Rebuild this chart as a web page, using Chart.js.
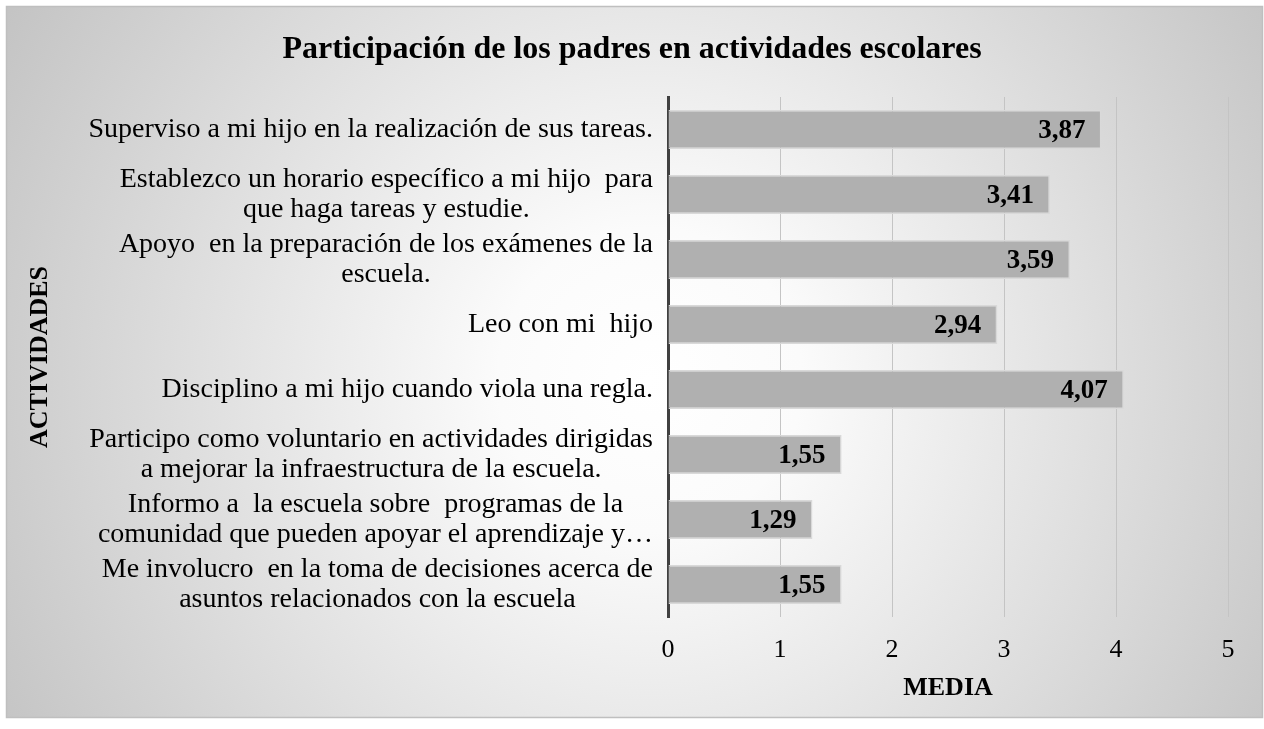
<!DOCTYPE html>
<html>
<head>
<meta charset="utf-8">
<script src="https://cdn.jsdelivr.net/npm/chart.js@4.4.0/dist/chart.umd.min.js"></script>
<style>
  html, body { margin: 0; padding: 0; background: #ffffff; }
  #wrap { position: absolute; left: 0; top: 0; width: 1264px; height: 729px; }
</style>
</head>
<body>
<div id="wrap"><canvas id="c" width="1264" height="729"></canvas></div>
<script>
const chartTitle = 'Participación de los padres en actividades escolares';
const xAxisTitle = 'MEDIA';
const yAxisTitle = 'ACTIVIDADES';
const categories = [
  ['Superviso a mi hijo en la realización de sus tareas.'],
  ['Establezco un horario específico a mi hijo  para', 'que haga tareas y estudie.'],
  ['Apoyo  en la preparación de los exámenes de la', 'escuela.'],
  ['Leo con mi  hijo'],
  ['Disciplino a mi hijo cuando viola una regla.'],
  ['Participo como voluntario en actividades dirigidas', 'a mejorar la infraestructura de la escuela.'],
  ['Informo a  la escuela sobre  programas de la', 'comunidad que pueden apoyar el aprendizaje y…'],
  ['Me involucro  en la toma de decisiones acerca de', 'asuntos relacionados con la escuela']
];
const mediaValues = [3.87, 3.41, 3.59, 2.94, 4.07, 1.55, 1.29, 1.55];
const xTicks = [0, 1, 2, 3, 4, 5];

const FONT = '"Liberation Serif", "Times New Roman", serif';

const bgPlugin = {
  id: 'bg',
  beforeDraw(chart) {
    const ctx = chart.ctx;
    ctx.save();
    const g = ctx.createRadialGradient(650, 380, 0, 650, 380, 760);
    g.addColorStop(0, '#ffffff');
    g.addColorStop(0.2, '#fbfbfb');
    g.addColorStop(1, '#c2c2c2');
    ctx.fillStyle = g;
    ctx.fillRect(6, 6, 1256, 711);
    ctx.strokeStyle = '#bfbfbf';
    ctx.lineWidth = 1.5;
    ctx.strokeRect(6.5, 6.5, 1256, 711);
    ctx.restore();
  }
};

const catLabelPlugin = {
  id: 'catLabels',
  afterDraw(chart) {
    const ctx = chart.ctx;
    const y = chart.scales.y;
    ctx.save();
    ctx.font = '28px ' + FONT;
    ctx.fillStyle = '#000000';
    ctx.textBaseline = 'middle';
    ctx.textAlign = 'center';
    const right = chart.chartArea.left - 15;
    const lh = 30;
    categories.forEach((lines, i) => {
      const cy = y.getPixelForTick(i);
      const w = Math.max(...lines.map(l => ctx.measureText(l).width));
      const cx = right - w / 2;
      const start = cy - (lines.length - 1) * lh / 2;
      lines.forEach((l, k) => ctx.fillText(l, cx, start + k * lh));
    });
    ctx.restore();
  }
};

const valueLabelPlugin = {
  id: 'valLabels',
  afterDatasetsDraw(chart) {
    const ctx = chart.ctx;
    const meta = chart.getDatasetMeta(0);
    ctx.save();
    ctx.font = 'bold 27px ' + FONT;
    ctx.fillStyle = '#000000';
    ctx.textAlign = 'right';
    ctx.textBaseline = 'middle';
    meta.data.forEach((bar, i) => {
      const txt = mediaValues[i].toFixed(2).replace('.', ',');
      ctx.fillText(txt, bar.x - 16, bar.y + 2);
    });
    ctx.restore();
  }
};

new Chart(document.getElementById('c'), {
  type: 'bar',
  data: {
    labels: categories,
    datasets: [{
      data: mediaValues,
      backgroundColor: '#b0b0b0',
      borderColor: '#d9d9d9',
      borderWidth: 1.5,
      borderSkipped: 'start',
      barPercentage: 0.6,
      categoryPercentage: 1.0
    }]
  },
  options: {
    indexAxis: 'y',
    responsive: false,
    animation: false,
    devicePixelRatio: 1,
    layout: { padding: { left: 36, right: 36, top: 6, bottom: 14 } },
    plugins: {
      legend: { display: false },
      tooltip: { enabled: false },
      title: {
        display: true,
        text: chartTitle,
        color: '#000000',
        font: { family: FONT, size: 32, weight: 'bold', lineHeight: 1.2 },
        padding: { top: 24.8, bottom: 27.8 }
      }
    },
    scales: {
      x: {
        type: 'linear',
        min: xTicks[0],
        max: xTicks[xTicks.length - 1],
        afterBuildTicks(scale) { scale.ticks = xTicks.map(v => ({ value: v })); },
        afterFit(scale) { scale.height = 729 - 617 - 14; },
        grid: { color: '#c4c4c4', lineWidth: 1, drawTicks: false },
        border: { display: false },
        ticks: {
          color: '#000000',
          padding: 18,
          font: { family: FONT, size: 26 }
        },
        title: {
          display: true,
          text: xAxisTitle,
          color: '#000000',
          font: { family: FONT, size: 26, weight: 'bold', lineHeight: 1.2 },
          padding: { top: 11, bottom: 11 }
        }
      },
      y: {
        type: 'category',
        afterFit(scale) { scale.width = 668 - 36; },
        grid: { display: false },
        border: { display: true, color: '#404040', width: 3 },
        ticks: { display: false },
        title: {
          display: true,
          text: yAxisTitle,
          color: '#000000',
          font: { family: FONT, size: 26, weight: 'bold', lineHeight: 1.2 },
          padding: { top: -11.6, bottom: 0 }
        }
      }
    }
  },
  plugins: [bgPlugin, catLabelPlugin, valueLabelPlugin]
});
</script>
</body>
</html>
